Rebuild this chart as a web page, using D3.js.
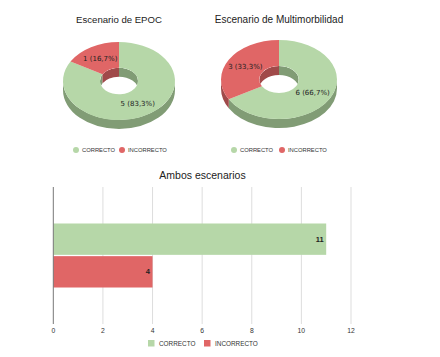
<!DOCTYPE html>
<html>
<head>
<meta charset="utf-8">
<script src="https://cdn.jsdelivr.net/npm/d3@7"></script>
<style>
  html, body { margin: 0; padding: 0; background: #fff; }
  svg { display: block; font-family: "Liberation Sans", Arial, sans-serif; }
</style>
</head>
<body>
<div id="chart"></div>
<script>
// data
var categories = ["CORRECTO", "INCORRECTO"];
var epocValues = [5, 1];
var multiValues = [6, 3];
var bothValues = [11, 4];
var xTicks = [0, 2, 4, 6, 8, 10, 12];
var pieTitles = ["Escenario de EPOC", "Escenario de Multimorbilidad"];
var barTitle = "Ambos escenarios";

var topColors = ["#b6d7a8", "#e06666"];
var sideColors = ["#819c75", "#a04a4a"];

var W = 440, H = 357;
var svg = d3.select("#chart").append("svg")
	.attr("width", W)
	.attr("height", H);

var locale = d3.formatLocale({ decimal: ",", thousands: ".", grouping: [3], currency: ["", "€"] });
var pct = locale.format(".1%");

var defs = svg.append("defs");

function drawPie3d(values, title, cfg, idx) {
	var g = svg.append("g"),
		cx = cfg.cx, cy = cfg.cy,
		rx = cfg.rx, ry = cfg.ry,
		irx = rx * cfg.hole, iry = ry * cfg.hole,
		depth = cfg.depth,
		total = d3.sum(values);

	var arcs = d3.pie().sort(null)(values);

	function pt(a, sx, sy, dy) {
		return [cx + sx * Math.sin(a), cy - sy * Math.cos(a) + (dy || 0)];
	}
	function band(a0, a1, sx, sy) {
		var p0 = pt(a0, sx, sy), p1 = pt(a1, sx, sy),
			q1 = pt(a1, sx, sy, depth), q0 = pt(a0, sx, sy, depth),
			large = (a1 - a0) > Math.PI ? 1 : 0;
		return "M" + p0 + "A" + sx + "," + sy + " 0 " + large + " 1 " + p1 +
			"L" + q1 + "A" + sx + "," + sy + " 0 " + large + " 0 " + q0 + "Z";
	}
	function clipRange(a0, a1, b0, b1) {
		var s = Math.max(a0, b0), e = Math.min(a1, b1);
		return e > s ? [s, e] : null;
	}

	// outer side wall (front half)
	arcs.forEach(function (d, i) {
		var r = clipRange(d.startAngle, d.endAngle, Math.PI / 2, 3 * Math.PI / 2);
		if (r) g.append("path").attr("d", band(r[0], r[1], rx, ry)).attr("fill", sideColors[i]);
	});

	// inner wall of the hole (back half), clipped to hole ellipse
	var cid = "hole" + idx;
	defs.append("clipPath").attr("id", cid)
		.append("ellipse").attr("cx", cx).attr("cy", cy).attr("rx", irx).attr("ry", iry);
	var inner = g.append("g").attr("clip-path", "url(#" + cid + ")");
	arcs.forEach(function (d, i) {
		[[0, Math.PI / 2], [3 * Math.PI / 2, 2 * Math.PI]].forEach(function (rg) {
			var r = clipRange(d.startAngle, d.endAngle, rg[0], rg[1]);
			if (r) inner.append("path").attr("d", band(r[0], r[1], irx, iry)).attr("fill", sideColors[i]);
		});
	});

	// top face
	arcs.forEach(function (d, i) {
		var a0 = d.startAngle, a1 = d.endAngle,
			large = (a1 - a0) > Math.PI ? 1 : 0;
		var p = "M" + pt(a0, rx, ry) + "A" + rx + "," + ry + " 0 " + large + " 1 " + pt(a1, rx, ry) +
			"L" + pt(a1, irx, iry) + "A" + irx + "," + iry + " 0 " + large + " 0 " + pt(a0, irx, iry) + "Z";
		g.append("path").attr("d", p).attr("fill", topColors[i]);
	});

	// slice labels
	arcs.forEach(function (d) {
		var m = (d.startAngle + d.endAngle) / 2,
			p = pt(m, (rx + irx) / 2, (ry + iry) / 2);
		g.append("text")
			.attr("x", p[0]).attr("y", p[1] + 2.5)
			.attr("text-anchor", "middle")
			.style("font-family", "'DejaVu Sans', Verdana, sans-serif")
			.style("font-size", "7px")
			.attr("fill", "#222")
			.text(d.value + " (" + pct(d.value / total) + ")");
	});

	// title
	svg.append("text")
		.attr("x", cx).attr("y", 23)
		.attr("text-anchor", "middle")
		.style("font-size", cfg.titleSize + "px")
		.attr("fill", "#222")
		.text(title);

	// legend
	var lg = svg.append("g");
	categories.forEach(function (c, i) {
		var lx = cfg.legendX[i];
		lg.append("circle").attr("cx", lx).attr("cy", 150).attr("r", 3).attr("fill", topColors[i]);
		lg.append("text").attr("x", lx + 6).attr("y", 152.2)
			.style("font-size", "5.8px").attr("fill", "#333").text(c);
	});
}

drawPie3d(epocValues, pieTitles[0], {
	cx: 119, cy: 81, rx: 56, ry: 39, hole: 0.34, depth: 9, titleSize: 9.6, legendX: [76, 122]
}, 0);
drawPie3d(multiValues, pieTitles[1], {
	cx: 279, cy: 79.5, rx: 58, ry: 39.5, hole: 0.34, depth: 9, titleSize: 10, legendX: [234, 282]
}, 1);

// bar chart
var x = d3.scaleLinear().domain([0, 12]).range([53.3, 351]);
var y0 = d3.scaleBand().domain(["Ambos"]).range([187, 324]).paddingOuter(0.57).paddingInner(0);
var y1 = d3.scaleBand().domain(categories).range([0, y0.bandwidth()]).paddingInner(0.04);

var bg = svg.append("g");
bg.selectAll("line.grid").data(xTicks.slice(1)).join("line")
	.attr("class", "grid")
	.attr("x1", function (d) { return x(d); }).attr("x2", function (d) { return x(d); })
	.attr("y1", 187).attr("y2", 324)
	.attr("stroke", "#ddd").attr("stroke-width", 1);

bg.selectAll("text.tick").data(xTicks).join("text")
	.attr("class", "tick")
	.attr("x", function (d) { return x(d); }).attr("y", 332.5)
	.attr("text-anchor", "middle")
	.style("font-size", "6.8px").attr("fill", "#333")
	.text(function (d) { return d; });

var bars = bg.append("g").attr("transform", "translate(0," + y0("Ambos") + ")");
bars.selectAll("rect").data(bothValues).join("rect")
	.attr("x", x(0))
	.attr("y", function (d, i) { return y1(categories[i]); })
	.attr("width", function (d) { return x(d) - x(0); })
	.attr("height", y1.bandwidth())
	.attr("fill", function (d, i) { return topColors[i]; });

bars.selectAll("text").data(bothValues).join("text")
	.attr("x", function (d) { return x(d) - 2.5; })
	.attr("y", function (d, i) { return y1(categories[i]) + y1.bandwidth() / 2 + 2.6; })
	.attr("text-anchor", "end")
	.style("font-size", "7.5px").style("font-weight", "bold").attr("fill", "#222")
	.text(function (d) { return d; });

bg.append("line")
	.attr("x1", x(0)).attr("x2", x(0)).attr("y1", 187).attr("y2", 324)
	.attr("stroke", "#777").attr("stroke-width", 1);

svg.append("text")
	.attr("x", 202.5).attr("y", 179)
	.attr("text-anchor", "middle")
	.style("font-size", "10.5px").attr("fill", "#222")
	.text(barTitle);

var legendBarX = [148, 204];
categories.forEach(function (c, i) {
	svg.append("rect").attr("x", legendBarX[i]).attr("y", 340).attr("width", 6.5).attr("height", 6.5)
		.attr("fill", topColors[i]);
	svg.append("text").attr("x", legendBarX[i] + 11).attr("y", 346)
		.style("font-size", "6.4px").attr("fill", "#333").text(c);
});
</script>
</body>
</html>
